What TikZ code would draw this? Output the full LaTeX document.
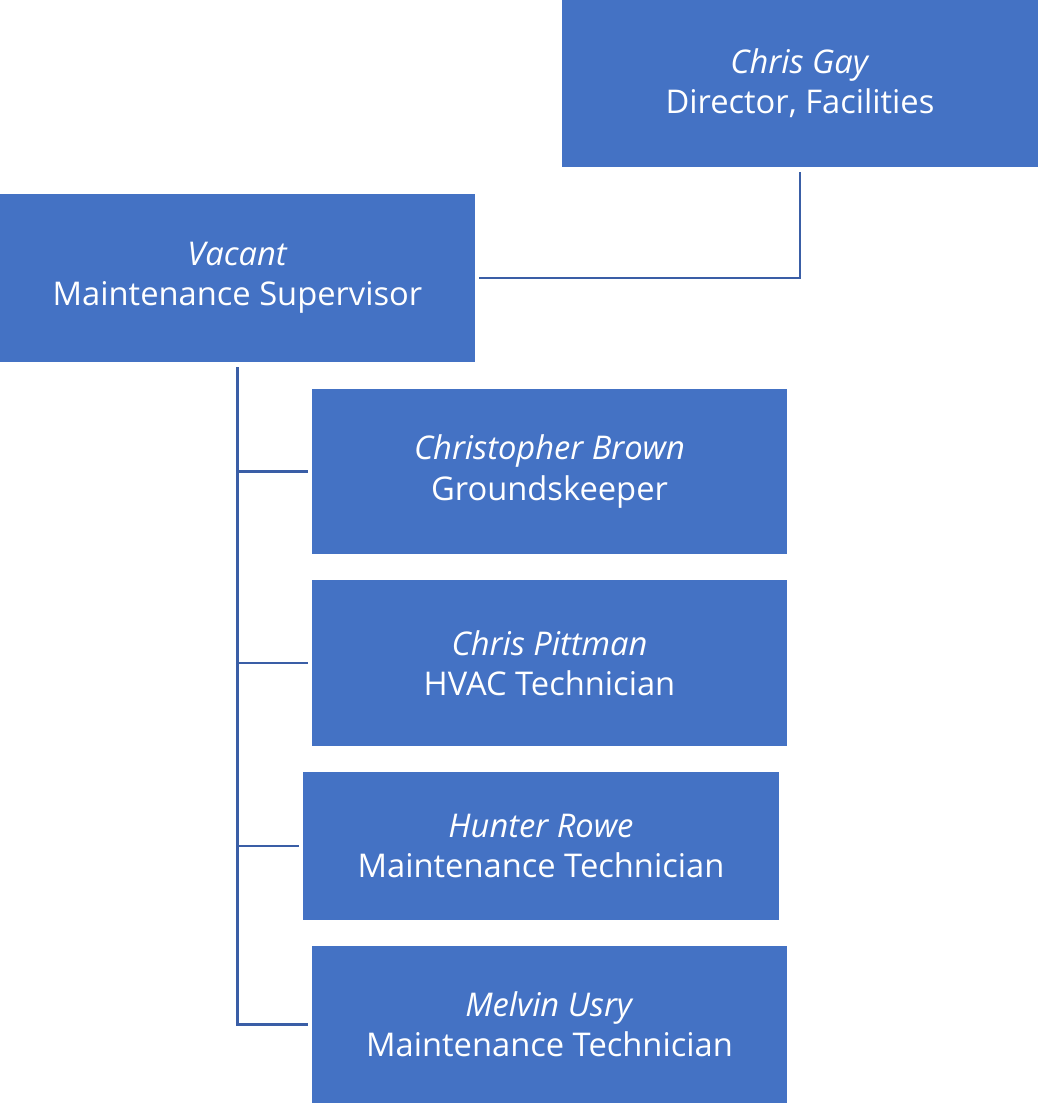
\documentclass[tikz,border=0pt]{standalone}
\usepackage{fontspec}
\setmainfont[Ligatures=NoCommon]{Open Sans}
\usepackage{tikz}
\definecolor{boxblue}{HTML}{4472C4}
\definecolor{lineblue}{HTML}{3A5EA6}
\usetikzlibrary{positioning}
\tikzstyle{post}=[fill=boxblue,text=white,align=center,inner sep=0pt,
  font=\fontsize{18.6}{22.8}\selectfont]
\tikzstyle{link}=[draw=lineblue,line width=1.6pt]

\begin{document}
\begin{tikzpicture}[x=0.02cm, y=-0.02cm]
  \useasboundingbox (0,0) rectangle (1038,1103);
  \node[post, minimum width=9.52cm, minimum height=3.34cm] (dir) at (800,83.5)
    {\textit{Chris Gay}\\Director, Facilities};
  \node[post, minimum width=9.5cm, minimum height=3.36cm] (sup) at (237.5,278)
    {\textit{Vacant}\\Maintenance Supervisor};
  \node[post, minimum width=9.5cm, minimum height=3.3cm] (brown) at (549.5,471.5)
    {\textit{Christopher Brown}\\Groundskeeper};
  \node[post, minimum width=9.5cm, minimum height=3.32cm] (pitt) at (549.5,663)
    {\textit{Chris Pittman}\\HVAC Technician};
  \node[post, minimum width=9.52cm, minimum height=2.96cm] (rowe) at (541,846)
    {\textit{Hunter Rowe}\\Maintenance Technician};
  \node[post, minimum width=9.5cm, minimum height=3.14cm] (usry) at (549.5,1024.5)
    {\textit{Melvin Usry}\\Maintenance Technician};

  \draw[link] ([yshift=-0.1cm]dir.south) |- ([xshift=0.08cm]sup.east);
  \draw[link] ([yshift=-0.1cm]sup.south) |- ([xshift=-0.08cm]usry.west);
  \draw[link] (sup.south |- brown.west) -- ([xshift=-0.08cm]brown.west);
  \draw[link] (sup.south |- pitt.west) -- ([xshift=-0.08cm]pitt.west);
  \draw[link] (sup.south |- rowe.west) -- ([xshift=-0.08cm]rowe.west);
\end{tikzpicture}
\end{document}
